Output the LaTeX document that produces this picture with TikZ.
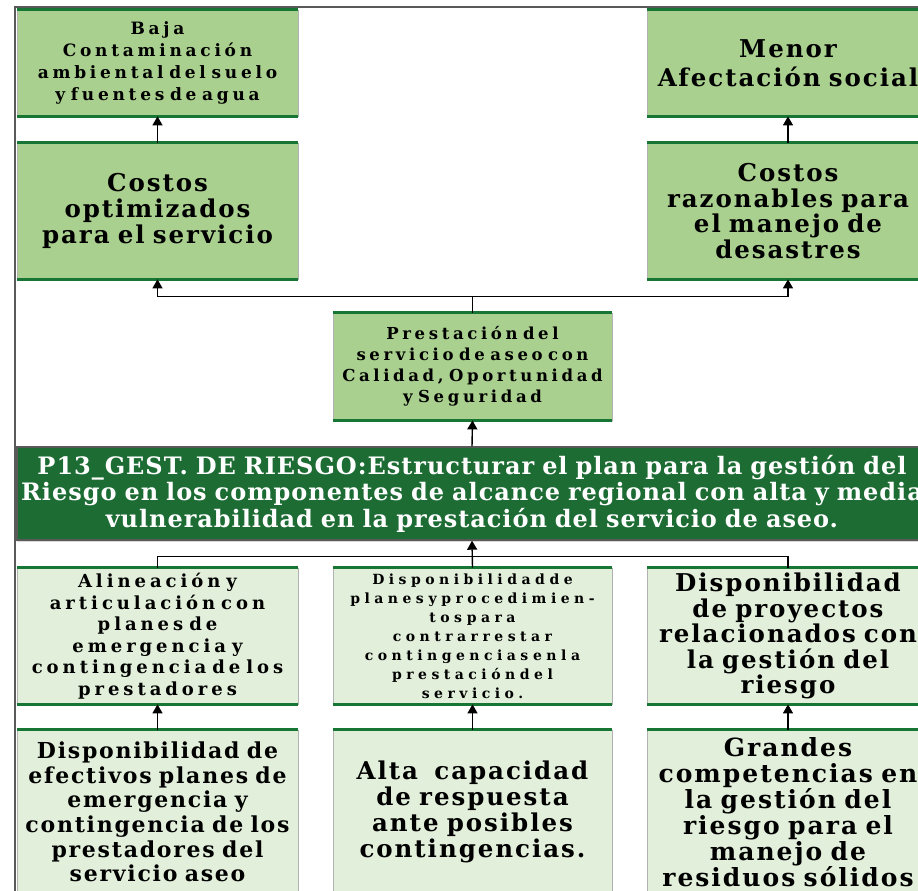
\documentclass[tikz,border=0pt]{standalone}
\usepackage{fontspec}
\setmainfont{DejaVu Serif}
\newfontfamily\ancha[LetterSpace=8]{DejaVu Serif}
\newfontfamily\barfont[LetterSpace=4]{DejaVu Serif}
\newfontfamily\spaced[LetterSpace=22,WordSpace=1.9]{DejaVu Serif}
\newfontfamily\masspaced[LetterSpace=32,WordSpace=1.9]{DejaVu Serif}
\usetikzlibrary{arrows.meta,positioning,shadows}
\definecolor{hoja}{RGB}{169,208,142}
\definecolor{palido}{RGB}{226,239,218}
\definecolor{bosque}{RGB}{28,108,52}
\definecolor{filo}{RGB}{24,118,52}
\setlength{\lineskiplimit}{-50pt}

\begin{document}
\begin{tikzpicture}[x=1pt,y=-1pt,
  caja/.style={fill=#1,draw=gray!60,line width=0.8pt,minimum width=281pt,text width=277pt,align=center,inner sep=0pt},
  grande/.style 2 args={font=\ancha\bfseries\fontsize{#1}{#2}\selectfont},
  chica/.style 2 args={font=\spaced\bfseries\fontsize{#1}{#2}\selectfont},
  flecha/.style={line width=1.4pt,-{Triangle[width=10pt,length=9pt]}},
  linea/.style={line width=1.4pt}]
  \useasboundingbox (0,0) rectangle (918,891);
  \clip (0,0) rectangle (918,891);
  \draw[line width=2pt,gray!70!black] (15,891) |- (918,7);
  % efectos
  \node[caja=hoja,minimum height=106pt,chica={17}{22}] (baja) at (157.5,63) {Baja\\Contaminación\\ambiental del suelo\\y fuentes de agua};
  \node[caja=hoja,minimum height=106pt,grande={24.5}{29}] (menor) at (788,63) {Menor\\Afectación social};
  \node[caja=hoja,minimum height=136pt,grande={24.5}{26}] (optim) at (157.5,211) {Costos\\optimizados\\para el servicio};
  \node[caja=hoja,minimum height=136pt,grande={24.5}{25.5}] (razon) at (788,211) {Costos\\razonables para\\el manejo de\\desastres};
  \node[caja=hoja,minimum height=107pt,minimum width=279pt,chica={16.5}{21},drop shadow={opacity=0.35,shadow xshift=1pt,shadow yshift=-2pt}] (prest) at (472.5,366.5) {Prestación del\\servicio de aseo con\\Calidad, Oportunidad\\y Seguridad};
  % problema central
  \node[fill=bosque,draw=gray!70!black,line width=1.4pt,minimum width=910pt,minimum height=93pt,text width=940pt,inner xsep=-15pt,align=center,inner ysep=0pt,text=white,font=\barfont\bfseries\fontsize{24}{26.5}\selectfont,drop shadow={opacity=0.3,shadow xshift=0pt,shadow yshift=-2pt}] (riesgo) at (472,493.5) {P13\_GEST. DE RIESGO:Estructurar el plan para la gestión del\\Riesgo en los componentes de alcance regional con alta y media\\vulnerabilidad en la prestación del servicio de aseo.};
  % causas
  \node[caja=palido,minimum height=136pt,chica={18}{21.5}] (alin) at (157.5,636) {Alineación y\\articulación con\\planes de\\emergencia y\\contingencia de los\\prestadores};
  \node[caja=palido,minimum height=136pt,minimum width=279pt,font=\masspaced\bfseries\fontsize{14}{19}\selectfont] (plan) at (472.5,636) {Disponibilidad de\\planes y procedimien-\\tos para\\contrarrestar\\contingencias en la\\prestación del\\servicio.};
  \node[caja=palido,minimum height=136pt,grande={24.5}{25.5}] (proy) at (788,636) {Disponibilidad\\de proyectos\\relacionados con\\la gestión del\\riesgo};
  \node[caja=palido,minimum height=164pt,grande={22}{24.7}] (efect) at (157.5,812) {Disponibilidad de\\efectivos planes de\\emergencia y\\contingencia de los\\prestadores del\\servicio aseo};
  \node[caja=palido,minimum height=164pt,minimum width=279pt,grande={24.5}{26}] (resp) at (472.5,812) {Alta~ capacidad\\de respuesta\\ante posibles\\contingencias.};
  \node[caja=palido,minimum height=164pt,grande={25}{26}] (compet) at (788,812) {Grandes\\competencias en\\la gestión del\\riesgo para el\\manejo de\\residuos sólidos};
  \foreach \n in {baja,menor,optim,razon,prest,alin,plan,proy,efect,resp,compet} {\draw[filo,line width=3pt] (\n.north west) -- (\n.north east); \draw[filo,line width=3pt] (\n.south west) -- (\n.south east);}
  % conectores
  \draw[flecha] (optim.north) -- (baja.south);
  \draw[flecha] (razon.north) -- (menor.south);
  \draw[flecha] (prest.north) -- ++(0,-16) -| (optim.south);
  \draw[flecha] (prest.north) -- ++(0,-16) -| (razon.south);
  \draw[flecha] (riesgo.north) -- (prest.south);
  \draw[linea] (alin.north) -- ++(0,-11) -| (proy.north);
  \draw[flecha] (plan.north) -- (riesgo.south);
  \foreach \a/\b in {efect/alin,resp/plan,compet/proy} {\draw[flecha] (\a.north) -- (\b.south);}
\end{tikzpicture}
\end{document}
